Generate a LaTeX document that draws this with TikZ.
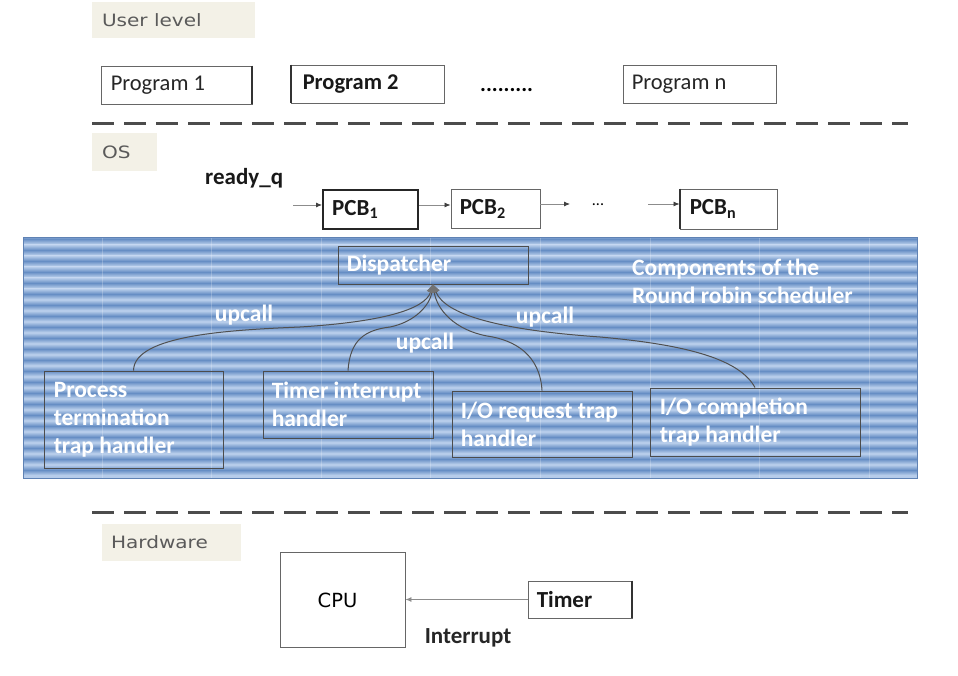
\documentclass[tikz,border=0pt]{standalone}
\usepackage{fontspec}
\setmainfont{Carlito}
\newfontfamily\dvs[FakeStretch=1.18]{DejaVu Sans}
\newfontfamily\dvsn{DejaVu Sans}
\usetikzlibrary{arrows.meta,calc}
\definecolor{bl}{RGB}{182,204,234}
\definecolor{bd}{RGB}{102,142,196}
\definecolor{bborder}{RGB}{95,130,180}
\definecolor{lab}{RGB}{243,241,231}
\definecolor{labtxt}{RGB}{90,90,90}
\definecolor{ln}{RGB}{80,80,80}
\begin{document}
\begin{tikzpicture}[x=1pt,y=-1pt,
  lblbox/.style={fill=lab, draw=none, inner sep=0pt},
  lbltxt/.style={font=\dvs\fontsize{17}{21}\selectfont, text=labtxt, inner sep=0pt, anchor=west},
  wbox/.style={draw=black!60, line width=0.9pt, fill=white, inner sep=0pt},
  btxt/.style={font=\fontsize{22.5}{26}\selectfont, text=black!85, inner sep=0pt, anchor=west},
  bbtxt/.style={font=\fontsize{22.5}{26}\selectfont\bfseries, text=black!90, inner sep=0pt, anchor=west},
  hbox/.style={draw=black!70, line width=0.9pt, inner sep=0pt},
  wtxt/.style={font=\fontsize{23.5}{28}\selectfont\bfseries, text=white, inner sep=0pt, align=left},
  sepline/.style={draw=black!70, line width=3pt, dash pattern=on 22pt off 10pt},
  conn/.style={draw=ln, line width=1pt},
  thinarr/.style={draw=black!45, line width=0.8pt, -{Latex[length=6pt,width=5pt,color=black!75]}},
]
\useasboundingbox (0,0) rectangle (958,676);

% ---------- User level ----------
\node[lblbox, minimum width=163pt, minimum height=36pt] (ulbox) at (173.5,20) {};
\node[lbltxt] (ult) at ([xshift=10pt]ulbox.west) {User level};

\node[wbox, minimum width=151pt, minimum height=38pt] (p1) at (176.5,85) {};
\node[btxt] (p1t) at ([xshift=10pt]p1.west) {Program 1};
\draw[black!80, line width=2pt] (p1.north east) -- (p1.south east);

\node[wbox, minimum width=153pt, minimum height=38pt] (p2) at (367.5,84) {};
\node[bbtxt] (p2t) at ([xshift=12pt]p2.west) {Program 2};
\draw[black!80, line width=2pt] (p2.north west) -- (p2.south west);

\node[font=\fontsize{22}{26}\selectfont\bfseries, inner sep=0pt, anchor=base west] (dots) at (480,92) {.........};

\node[wbox, minimum width=153pt, minimum height=38pt] (pn) at (699.5,84) {};
\node[btxt] (pnt) at ([xshift=9pt]pn.west) {Program n};

% separator 1
\coordinate (s1a) at (92,124);
\coordinate (s1b) at (908,124);
\draw[sepline] (s1a) -- (s1b);

% ---------- OS ----------
\node[lblbox, minimum width=65pt, minimum height=38pt] (osbox) at (124.5,152) {};
\node[lbltxt] (ost) at ([xshift=10pt]osbox.west) {OS};

\node[bbtxt, font=\fontsize{23}{26}\selectfont\bfseries] (rq) at (205,178) {ready\_q};

\node[wbox, draw=black!85, line width=2pt, minimum width=95pt, minimum height=39pt] (pcb1) at (370.5,209.5) {};
\node[bbtxt, font=\fontsize{23}{26}\selectfont\bfseries] (pcb1t) at ([xshift=10pt]pcb1.west) {PCB\textsubscript{1}};

\node[wbox, minimum width=89pt, minimum height=39pt] (pcb2) at (495.5,209) {};
\node[bbtxt, font=\fontsize{23}{26}\selectfont\bfseries] (pcb2t) at ([xshift=9pt]pcb2.west) {PCB\textsubscript{2}};

\node[font=\fontsize{16}{18}\selectfont, inner sep=0pt] (qdots) at (598,205) {...};

\node[wbox, minimum width=97pt, minimum height=40pt] (pcbn) at (728.5,209) {};
\draw[black!80, line width=2pt] (pcbn.north west) -- (pcbn.south west);
\node[bbtxt, font=\fontsize{23}{26}\selectfont\bfseries] (pcbnt) at ([xshift=10pt]pcbn.west) {PCB\textsubscript{n}};

\coordinate (q0) at (293,205);
\coordinate (q2) at (570,204);
\coordinate (q3) at (648,204);
\draw[thinarr] (q0) -- (q0 -| pcb1.west);
\draw[thinarr] (pcb1.east |- q0) -- (pcb2.west |- q0);
\draw[thinarr] (pcb2.east |- q2) -- (q2);
\draw[thinarr] (q3) -- (q3 -| pcbn.west);

% ---------- scheduler band ----------
\begin{scope}
  \clip (23,238) rectangle (917,478);
  \fill[bl] (23,238) rectangle (917,478);
  \foreach \i in {0,...,21}{
    \shade[top color=bl, bottom color=bl, middle color=bd] (23,{234+11*\i}) rectangle (917,{244+11*\i});
  }
  \foreach \x in {102,211.6,...,900}{
    \draw[white, opacity=0.22, line width=0.8pt] (\x,238) -- (\x,478);
  }
\end{scope}
\draw[draw=bborder, line width=1pt] (23,238) rectangle (917,478);

\node[hbox, minimum width=190pt, minimum height=38pt] (disp) at (433,265) {};
\node[wtxt, anchor=west] (dispt) at ([xshift=9pt]disp.west) {Dispatcher};

\node[wtxt, anchor=west] (comp) at (632,281) {Components of the\\Round robin scheduler};

\node[hbox, minimum width=179pt, minimum height=97pt] (proc) at (133.5,419.5) {};
\node[wtxt, anchor=west] (proct) at ([xshift=10pt]proc.west) {Process\\termination\\trap handler};

\node[hbox, minimum width=170pt, minimum height=67pt] (tih) at (348,404.5) {};
\node[wtxt, anchor=west] (tiht) at ([xshift=9pt]tih.west) {Timer interrupt\\handler};

\node[hbox, minimum width=180pt, minimum height=66pt] (ioreq) at (542,424) {};
\node[wtxt, anchor=west] (ioreqt) at ([xshift=9pt]ioreq.west) {I/O request trap\\handler};

\node[hbox, minimum width=210pt, minimum height=68pt] (iocomp) at (755,422) {};
\node[wtxt, anchor=west] (iocompt) at ([xshift=10pt]iocomp.west) {I/O completion\\trap handler};

\node[wtxt] (up1) at (244,315) {upcall};
\node[wtxt] (up2) at (425,343) {upcall};
\node[wtxt] (up3) at (545,317) {upcall};

\draw[conn, -{Triangle[length=8pt,width=8pt,color=black!55]}] (proc.north)
  .. controls (134,335) and (230,330) .. (300,327)
  .. controls (380,322) and (425,310) .. (disp.south);
\draw[conn, -{Triangle[length=8pt,width=8pt,color=black!55]}] (tih.north)
  .. controls (350,340) and (365,330) .. (390,327)
  .. controls (415,322) and (430,305) .. (disp.south);
\draw[conn, -{Triangle[length=8pt,width=8pt,color=black!55]}] (ioreq.north)
  .. controls (540,355) and (515,340) .. (487,336)
  .. controls (455,330) and (437,310) .. (disp.south);
\draw[conn, -{Triangle[length=8pt,width=8pt,color=black!55]}] (iocomp.north)
  .. controls (740,360) and (690,345) .. (600,337)
  .. controls (500,330) and (445,315) .. (disp.south);

% separator 2
\coordinate (s2a) at (92,512);
\coordinate (s2b) at (908,512);
\draw[sepline] (s2a) -- (s2b);

% ---------- Hardware ----------
\node[lblbox, minimum width=139pt, minimum height=37pt] (hwbox) at (171.5,542.5) {};
\node[lbltxt] (hwt) at ([xshift=9pt]hwbox.west) {Hardware};

\node[wbox, minimum width=125pt, minimum height=95pt] (cpu) at (342.5,599.5) {};
\node[font=\dvsn\fontsize{19.5}{22}\selectfont, inner sep=0pt] (cput) at ([xshift=-5pt,yshift=-1pt]cpu.center) {CPU};

\node[wbox, minimum width=104pt, minimum height=37pt] (timer) at (580,599.5) {};
\draw[black!80, line width=2pt] (timer.north east) -- (timer.south east);
\node[bbtxt, font=\fontsize{23}{26}\selectfont\bfseries] (timert) at ([xshift=9pt]timer.west) {Timer};

\draw[thinarr, -{Latex[length=6pt,width=5pt,color=black!45]}] (timer.west) -- (cpu.east);
\node[font=\fontsize{23}{26}\selectfont\bfseries, text=black!85, inner sep=0pt] (intr) at (468,638) {Interrupt};

\end{tikzpicture}
\end{document}
